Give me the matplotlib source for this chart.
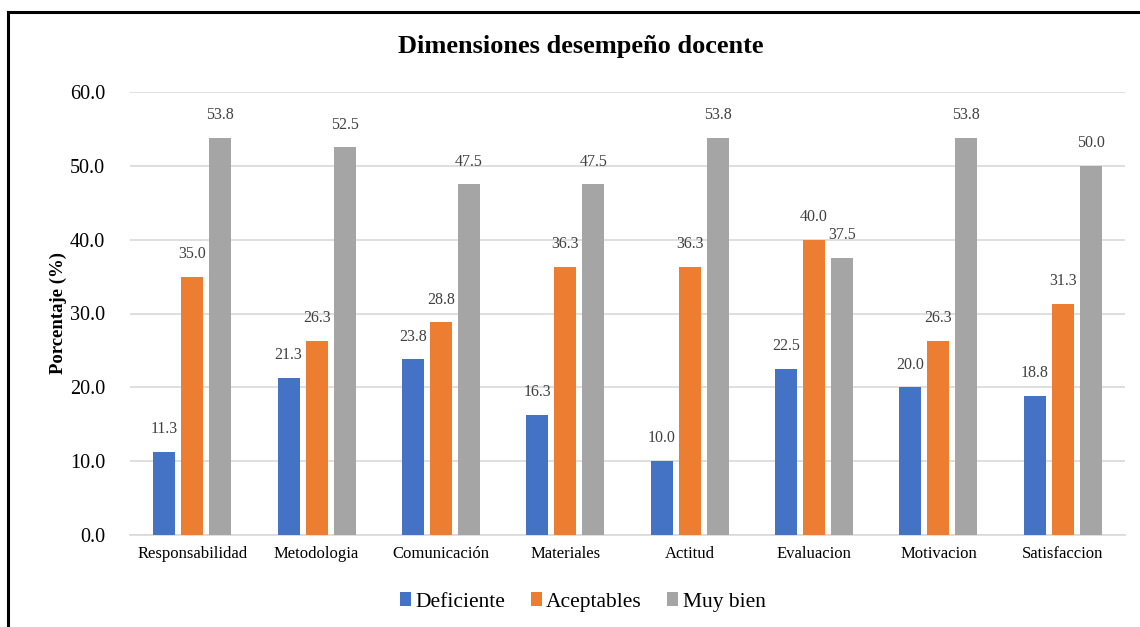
import matplotlib.pyplot as plt
import numpy as np

categorias = ['Responsabilidad', 'Metodologia', 'Comunicación', 'Materiales',
              'Actitud', 'Evaluacion', 'Motivacion', 'Satisfaccion']
deficiente = [11.3, 21.3, 23.8, 16.3, 10.0, 22.5, 20.0, 18.8]
aceptables = [35.0, 26.3, 28.8, 36.3, 36.3, 40.0, 26.3, 31.3]
muy_bien = [53.8, 52.5, 47.5, 47.5, 53.8, 37.5, 53.8, 50.0]

plt.rcParams['font.family'] = ['Liberation Serif', 'DejaVu Serif']

fig = plt.figure(figsize=(11.4, 6.27), dpi=100)
ax = fig.add_axes([130 / 1140, 1 - 535 / 627, 995 / 1140, 443 / 627])

x = np.arange(len(categorias))
w = 0.177
step = 0.225
series = [(deficiente, 'Deficiente', '#4472C4'),
          (aceptables, 'Aceptables', '#ED7D31'),
          (muy_bien, 'Muy bien', '#A5A5A5')]
for i, (vals, name, col) in enumerate(series):
    bars = ax.bar(x + (i - 1) * step, vals, w, color=col, label=name, zorder=3)
    for b, v in zip(bars, vals):
        ax.text(b.get_x() + b.get_width() / 2, v + 2.0, f'{v:.1f}',
                ha='center', va='bottom', fontsize=11.5, color='#404040')

ax.set_xlim(-0.5, len(categorias) - 0.5)
ax.set_ylim(0, 60)
ax.set_yticks(np.arange(0, 61, 10))
ax.set_yticklabels([f'{t:.1f}' for t in np.arange(0, 61, 10)], fontsize=14.5)
ax.set_xticks(x)
ax.set_xticklabels(categorias, fontsize=12)
ax.tick_params(length=0, pad=8)
ax.tick_params(axis='y', pad=18)
ax.grid(axis='y', color='#D9D9D9', linewidth=1.2, zorder=0)
for s in ['top', 'right', 'left']:
    ax.spines[s].set_visible(False)
ax.spines['bottom'].set_color('#D9D9D9')
ax.spines['bottom'].set_linewidth(1.2)

ax.set_ylabel('Porcentaje (%)', fontsize=13.5, fontweight='bold', labelpad=2)
fig.text(581 / 1140, 1 - 47 / 627, 'Dimensiones desempeño docente',
         ha='center', va='center', fontsize=19, fontweight='bold')

ax.legend(loc='upper center', bbox_to_anchor=(0.455, -0.085), ncol=3, frameon=False,
          fontsize=15.5, handlelength=0.5, handleheight=0.65, handletextpad=0.2,
          columnspacing=1.2)

# outer frame (left and top edges visible)
fig.add_artist(plt.Line2D([8 / 1140, 8 / 1140], [0, 1 - 12 / 627], color='black',
                          linewidth=2.2, transform=fig.transFigure))
fig.add_artist(plt.Line2D([8 / 1140, 1], [1 - 12 / 627, 1 - 12 / 627], color='black',
                          linewidth=2.2, transform=fig.transFigure))

plt.savefig('out.png', dpi=100)
